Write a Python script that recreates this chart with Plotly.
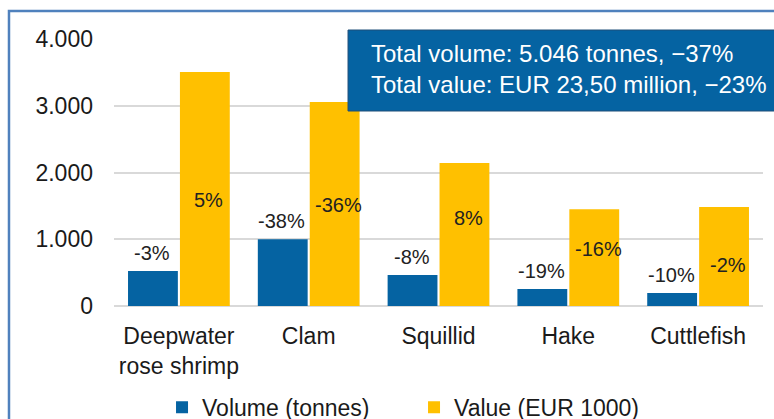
import plotly.graph_objects as go

categories = ["Deepwater<br>rose shrimp", "Clam", "Squillid", "Hake", "Cuttlefish"]
volume = [524, 1000, 464, 255, 195]
value = [3505, 3056, 2142, 1448, 1483]
volume_change = ["-3%", "-38%", "-8%", "-19%", "-10%"]
value_change = ["5%", "-36%", "8%", "-16%", "-2%"]
value_label_y = [1588, 1513, 1318, 854, 614]
y_ticks = [0, 1000, 2000, 3000, 4000]
box_lines = ["Total volume: 5.046 tonnes, −37%", "Total value: EUR 23,50 million, −23%"]

BLUE = "#0563A2"
YELLOW = "#FFC000"
FONT = "Liberation Sans, Arial, sans-serif"

fig = go.Figure()
fig.add_trace(go.Bar(x=categories, y=volume, name="Volume (tonnes)", marker_color=BLUE,
                     marker_line_width=0))
fig.add_trace(go.Bar(x=categories, y=value, name="Value (EUR 1000)", marker_color=YELLOW,
                     marker_line_width=0))

annotations = []
for c, v, t in zip(categories, volume, volume_change):
    annotations.append(dict(x=c, y=v, text=t, xref="x", yref="y", showarrow=False,
                            xshift=-27, yanchor="bottom", yshift=5,
                            font=dict(size=20, color="#222222", family=FONT)))
for c, v, t in zip(categories, value_label_y, value_change):
    annotations.append(dict(x=c, y=v, text=t, xref="x", yref="y", showarrow=False,
                            xshift=30, yanchor="middle",
                            font=dict(size=20, color="#222222", family=FONT)))
annotations.append(dict(x=0.393, y=0.888, xref="paper", yref="paper", showarrow=False,
                        xanchor="left", yanchor="middle", align="left",
                        text="<br>".join(box_lines),
                        font=dict(size=24, color="white", family=FONT)))

fig.update_layout(
    width=774, height=419,
    margin=dict(l=114, r=11, t=39, b=113, autoexpand=False),
    paper_bgcolor="white", plot_bgcolor="white",
    barmode="group", bargap=0.2, bargroupgap=0.04,
    separators=",.",
    font=dict(family=FONT, size=23, color="#1a1a1a"),
    yaxis=dict(range=[0, 4000], tickvals=y_ticks, tickformat=",d", automargin=False,
               showgrid=True, gridcolor="#D9D9D9", gridwidth=1.5,
               zeroline=True, zerolinecolor="#D9D9D9", zerolinewidth=1.5,
               tickfont=dict(size=23), ticks="", ticklabelstandoff=20),
    xaxis=dict(tickfont=dict(size=23), ticks="", showline=False, ticklabelstandoff=14,
               automargin=False),
    showlegend=True,
    legend=dict(orientation="h", x=0.074, xanchor="left", y=-0.299, yanchor="top",
                font=dict(size=23), traceorder="normal", itemwidth=30,
                entrywidth=207, entrywidthmode="pixels"),
    annotations=annotations,
    shapes=[
        dict(type="rect", xref="paper", yref="paper", x0=-0.1618, x1=1.2, y0=-0.6, y1=1.1049,
             line=dict(color="#4F81BD", width=2.5), fillcolor="rgba(0,0,0,0)", layer="below"),
        dict(type="rect", xref="paper", yref="paper", x0=0.3606, x1=1.2, y0=0.7303, y1=1.0337,
             line=dict(color="#1F4E79", width=1), fillcolor=BLUE, layer="above"),
    ],
)

fig.write_html("out.html", config={"displayModeBar": False},
               post_script="document.body.style.margin='0';document.body.style.overflow='hidden';")
